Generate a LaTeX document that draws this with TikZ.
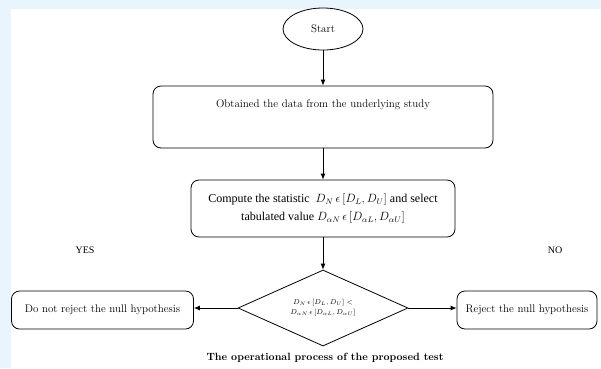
\documentclass[tikz,border=0pt]{standalone}
\usepackage{fontspec}
\newfontfamily\timesfont{Liberation Serif}
\usetikzlibrary{shapes.geometric,arrows.meta}
\definecolor{pageblue}{RGB}{232,245,252}

\begin{document}
\begin{tikzpicture}[x=1pt,y=-1pt,
  flowbox/.style={draw, rounded corners=8pt, line width=0.8pt, align=center, font=\fontsize{11}{13}\selectfont},
  flowline/.style={line width=0.8pt, -{Latex[length=6pt,width=5pt]}},
  sidelabel/.style={font=\timesfont\fontsize{10}{12}\selectfont}]
  % page and white frame
  \useasboundingbox (0,0) rectangle (601,368);
  \fill[pageblue] (0,0) rectangle (601,368);
  \fill[white] (11,9) rectangle (601,368);

  % main column
  \node[draw, ellipse, line width=0.8pt, minimum width=80pt, minimum height=42pt, font=\fontsize{11}{13}\selectfont] (start) at (323,29) {Start};
  \node[flowbox, minimum width=340pt, inner ysep=0pt, text height=21pt, text depth=41pt] (obtain) at (323,117) {Obtained the data from the underlying study};
  \node[flowbox, minimum width=264pt, minimum height=57pt, inner xsep=3pt, font=\timesfont\fontsize{12}{18}\selectfont] (compute) at (323,208.5)
    {Compute the statistic\ \ $D_N\,\epsilon\,[D_L, D_U]$ and select\\ tabulated value $D_{\alpha N}\,\epsilon\,[D_{\alpha L}, D_{\alpha U}]$};
  \node[draw, diamond, aspect=2.2, minimum width=170pt, minimum height=76pt, inner sep=0pt, line width=0.8pt,
    font=\fontsize{7}{10}\selectfont, align=center] (decide) at (323,308)
    {$D_N\,\epsilon\,[D_L, D_U] <$\\ $D_{\alpha N}\,\epsilon\,[D_{\alpha L}, D_{\alpha U}]$};

  % outcomes
  \node[flowbox, minimum width=182pt, minimum height=38pt] (keep) at (102.5,310) {Do not reject the null hypothesis};
  \node[flowbox, minimum width=140pt, minimum height=38pt] (reject) at (527,310) {Reject the null hypothesis};
  \node[sidelabel] (yes) at (85,250) {YES};
  \node[sidelabel] (no) at (555,250) {NO};

  % arrows
  \draw[flowline] (start.south) -- (obtain.north);
  \draw[flowline] (obtain.south) -- (compute.north);
  \draw[flowline] (compute.south) -- (decide.north);
  \draw[flowline] (decide.west) -- (decide.west -| keep.east);
  \draw[flowline] (decide.east) -- (decide.east -| reject.west);

  \node[font=\bfseries\fontsize{10.5}{12}\selectfont] (caption) at (325,358) {The operational process of the proposed test};
\end{tikzpicture}
\end{document}
